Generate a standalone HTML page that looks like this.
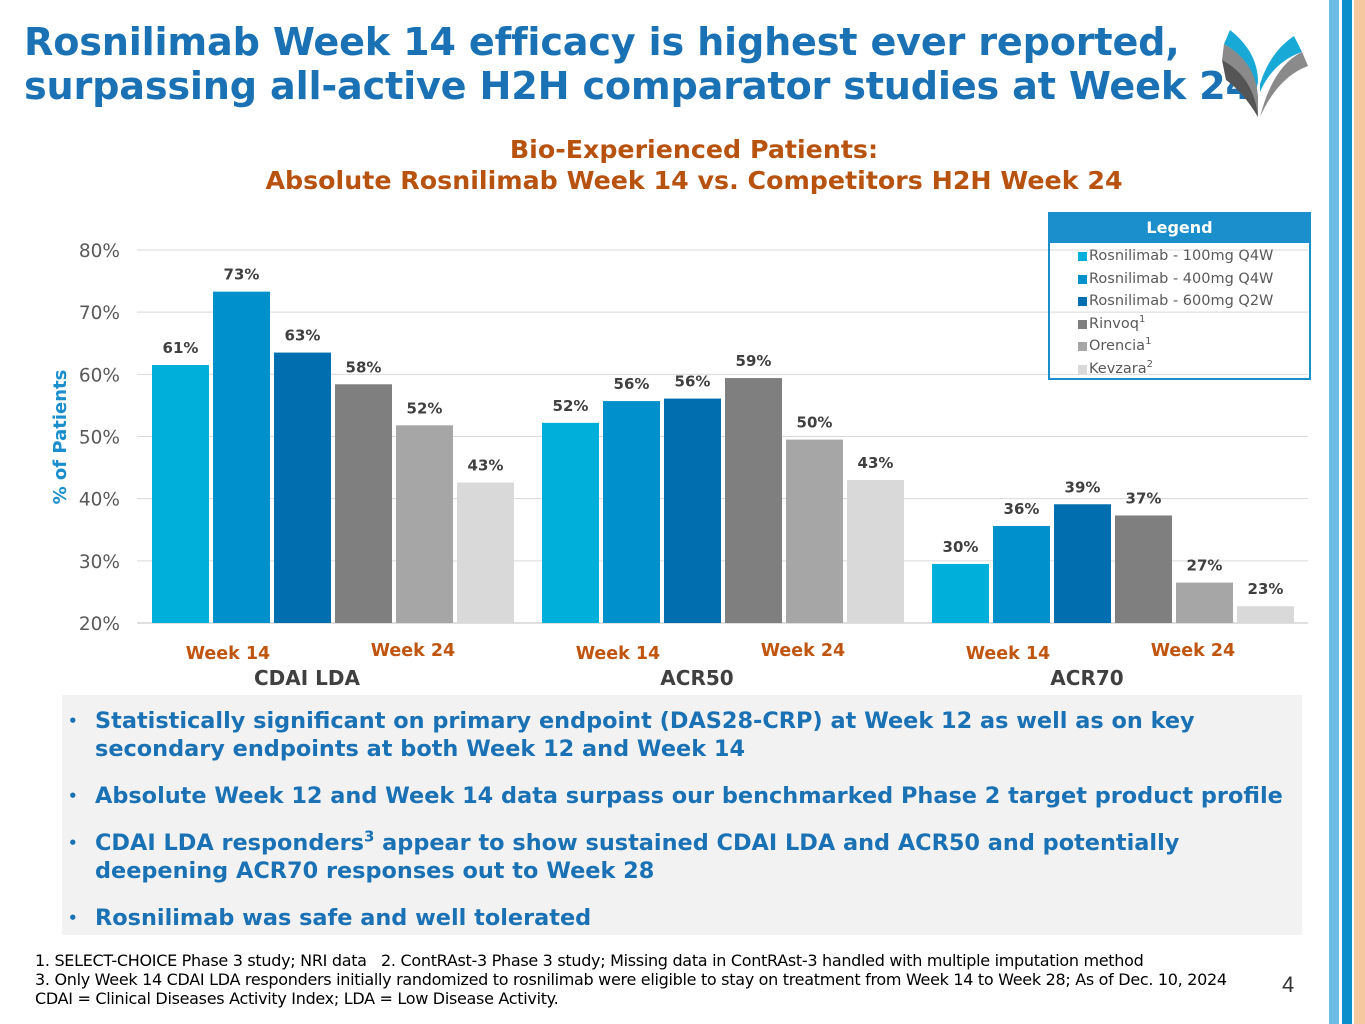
<!DOCTYPE html>
<html><head><meta charset="utf-8"><style>
body{margin:0;width:1365px;height:1024px;overflow:hidden;background:#fff;position:relative;font-family:"DejaVu Sans","Liberation Sans",sans-serif}
.abs{position:absolute}
.title{left:24px;top:21px;color:#1a72b5;font-weight:bold;font-size:38.2px;line-height:44px;letter-spacing:-0.2px;white-space:nowrap}
.sub{left:0;width:1388px;top:134px;text-align:center;color:#b8520f;font-weight:bold;font-size:25.3px;line-height:31px;white-space:nowrap}
.bul{left:62px;top:695px;width:1240px;height:240px;background:#f2f2f2}
.bul ul{margin:0;padding:12px 0 0 33px;list-style:none}
.bul li{position:relative;color:#1a72b5;font-weight:bold;font-size:22.4px;line-height:28px;margin-bottom:19px;white-space:nowrap}
.bul li:before{content:"•";position:absolute;left:-27px;color:#1a72b5;font-size:15px}
.bul sup{font-size:15px;line-height:0}
.foot{left:35px;top:951px;font-family:"DejaVu Sans","Liberation Sans",sans-serif;font-size:16px;line-height:19px;color:#000;white-space:nowrap;letter-spacing:-0.3px}
</style></head><body>
<div class="abs title">Rosnilimab Week 14 efficacy is highest ever reported,<br>surpassing all-active H2H comparator studies at Week 24</div>
<svg class="abs" style="left:1218px;top:22px" width="100" height="100">
<path d="M12 8 Q40 30 40 60 L38 70 Q30 35 6 22Z" fill="#19a9d6"/>
<path d="M6 22 Q38 40 40 75 L40 95 Q30 55 4 38Z" fill="#8a8a8a"/>
<path d="M4 38 Q36 55 40 95 Q25 70 8 58Z" fill="#555"/>
<path d="M76 14 Q52 30 42 62 L42 70 Q55 40 84 30Z" fill="#19a9d6"/>
<path d="M84 30 Q55 44 42 95 Q60 55 90 44Z" fill="#8a8a8a"/>
</svg>
<div class="abs" style="left:1329px;top:0;width:10px;height:1024px;background:#6cbde5"></div>
<div class="abs" style="left:1342px;top:0;width:10px;height:1024px;background:#0a8fcd"></div>
<div class="abs" style="left:1354px;top:0;width:11px;height:1024px;background:#f6c89f"></div>
<div class="abs sub">Bio-Experienced Patients:<br>Absolute Rosnilimab Week 14 vs. Competitors H2H Week 24</div>

<svg class="abs" style="left:0;top:0" width="1365" height="700" id="chart"></svg>

<div class="abs" style="left:1048px;top:212px;width:263px;height:168px;border:2px solid #1a8fcc;box-sizing:border-box">
<div style="background:#1a8fcc;color:#fff;font-weight:bold;font-size:16px;text-align:center;height:29px;line-height:28px">Legend</div>
<div id="leg" style="padding:2px 0 0 39px;font-size:14.5px;color:#595959;line-height:22.5px"></div>
</div>

<div class="abs bul"><ul>
<li>Statistically significant on primary endpoint (DAS28-CRP) at Week 12 as well as on key<br>secondary endpoints at both Week 12 and Week 14</li>
<li>Absolute Week 12 and Week 14 data surpass our benchmarked Phase 2 target product profile</li>
<li>CDAI LDA responders<sup>3</sup> appear to show sustained CDAI LDA and ACR50 and potentially<br>deepening ACR70 responses out to Week 28</li>
<li>Rosnilimab was safe and well tolerated</li>
</ul></div>
<div class="abs foot">1. SELECT-CHOICE Phase 3 study; NRI data&nbsp;&nbsp; 2. ContRAst-3 Phase 3 study; Missing data in ContRAst-3 handled with multiple imputation method<br>3. Only Week 14 CDAI LDA responders initially randomized to rosnilimab were eligible to stay on treatment from Week 14 to Week 28; As of Dec. 10, 2024<br>CDAI = Clinical Diseases Activity Index; LDA = Low Disease Activity.</div>
<div class="abs" style="left:1282px;top:972px;font-size:22px;color:#333;font-family:'Liberation Sans',sans-serif">4</div>

<script>
const categories=["CDAI LDA","ACR50","ACR70"];
const seriesNames=["Rosnilimab - 100mg Q4W","Rosnilimab - 400mg Q4W","Rosnilimab - 600mg Q2W","Rinvoq","Orencia","Kevzara"];
const seriesSup=["","","","1","1","2"];
const s100=[61.5,52.2,29.5];
const s400=[73.3,55.7,35.6];
const s600=[63.5,56.1,39.1];
const rinvoq=[58.4,59.4,37.3];
const orencia=[51.8,49.5,26.5];
const kevzara=[42.6,43.0,22.7];
const labels100=["61%","52%","30%"];
const labels400=["73%","56%","36%"];
const labels600=["63%","56%","39%"];
const labelsRinvoq=["58%","59%","37%"];
const labelsOrencia=["52%","50%","27%"];
const labelsKevzara=["43%","43%","23%"];
const yTicks=[20,30,40,50,60,70,80];
const colors=["#00b0db","#0090cc","#006eaf","#7f7f7f","#a6a6a6","#d9d9d9"];
const series=[s100,s400,s600,rinvoq,orencia,kevzara];
const lbls=[labels100,labels400,labels600,labelsRinvoq,labelsOrencia,labelsKevzara];
const NS="http://www.w3.org/2000/svg",svg=document.getElementById('chart');
const y=v=>623-(v-20)*(373/60);
const gx=i=>152+i*390;
const bx=(g,s)=>gx(g)+s*61;
function mk(t,a,txt){const e=document.createElementNS(NS,t);for(const k in a)e.setAttribute(k,a[k]);if(txt!=null)e.textContent=txt;svg.appendChild(e);return e;}
yTicks.forEach(t=>{
 const l=mk('line',{x1:137,x2:1308,y1:y(t),y2:y(t),stroke:t===20?'#bfbfbf':'#d9d9d9','stroke-width':1});
 
 
 const tx=mk('text',{x:120,y:y(t)+7,'text-anchor':'end','font-size':18.5,fill:'#595959','font-family':'DejaVu Sans,sans-serif'},t+'%');
 
 
});
const yt=mk('text',{x:0,y:0,transform:'translate(66,437) rotate(-90)','text-anchor':'middle','font-size':18,'font-weight':'bold',fill:'#1a8fcc','font-family':'DejaVu Sans,sans-serif'},'% of Patients');


categories.forEach((c,g)=>{
 series.forEach((sv,s)=>{
  const r=mk('rect',{x:bx(g,s),y:y(sv[g]),width:57,height:623-y(sv[g]),fill:colors[s]});
  
  
  const t=mk('text',{x:bx(g,s)+28.5,y:y(sv[g])-12,'text-anchor':'middle','font-size':15,'font-weight':'bold',fill:'#404040','font-family':'DejaVu Sans,sans-serif'},lbls[s][g]);
  
  
 });
 const w1=mk('text',{x:gx(g)+76,y:659,'text-anchor':'middle','font-size':17.5,'font-weight':'bold',fill:'#c0550f','font-family':'DejaVu Sans,sans-serif'},'Week 14');
 
 
 const w2=mk('text',{x:gx(g)+261,y:656,'text-anchor':'middle','font-size':17.5,'font-weight':'bold',fill:'#c0550f','font-family':'DejaVu Sans,sans-serif'},'Week 24');
 
 
 const cl=mk('text',{x:gx(g)+155,y:685,'text-anchor':'middle','font-size':20,'font-weight':'bold',fill:'#404040','font-family':'DejaVu Sans,sans-serif'},c);
 
 
});
const leg=document.getElementById('leg');
seriesNames.forEach((n,i)=>{
 const d=document.createElement('div');
 
 
 d.innerHTML='<span style="position:absolute;margin-left:-11px;margin-top:7px;width:9px;height:9px;background:'+colors[i]+'"></span>'+n+(seriesSup[i]?'<sup style="font-size:10px;line-height:0">'+seriesSup[i]+'</sup>':'');
 d.style.height='22.5px';
 d.style.whiteSpace='nowrap';
 leg.appendChild(d);
});
</script>
</body></html>
